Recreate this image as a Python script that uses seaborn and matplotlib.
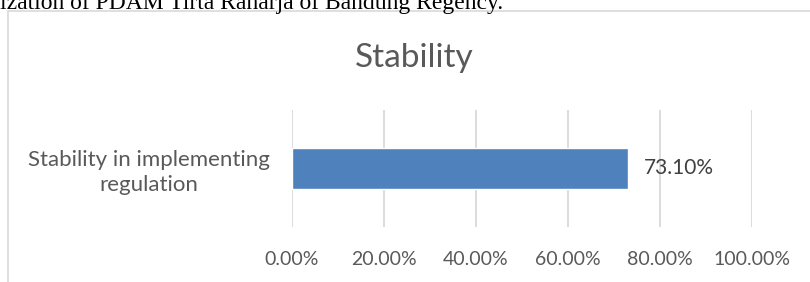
import matplotlib
matplotlib.use("Agg")
import matplotlib.pyplot as plt
import seaborn as sns
import pandas as pd
from matplotlib.patches import Rectangle

categories = ["Stability in implementing\nregulation"]
values = [73.1]
x_ticks = [0, 20, 40, 60, 80, 100]
title = "Stability"
caption = "ization of PDAM Tirta Raharja of Bandung Regency."

sns.set_theme(style="white")
plt.rcParams['font.family'] = ['Lato', 'DejaVu Sans']

W, H = 810, 282
fig = plt.figure(figsize=(W / 100, H / 100), dpi=100)

# chart border (left + top visible)
fig.patches.append(Rectangle((8 / W, -0.1), 1.2, 1 - 11 / H + 0.1, transform=fig.transFigure,
                             fill=False, edgecolor="#D9D9D9", linewidth=1.2))

fig.text(0 / W, 1 - 9.5 / H, caption, family=["Liberation Serif"], fontsize=17,
         color="black", ha="left", va="baseline")

ax = fig.add_axes([292 / W, 1 - 227 / H, (752 - 292) / W, (227 - 110) / H])
df = pd.DataFrame({"cat": categories, "val": values})
sns.barplot(data=df, x="val", y="cat", orient="h", color="#4F81BD", width=0.35,
            saturation=1, ax=ax, zorder=3)

ax.set_xlim(0, 100)
ax.set_ylim(0.5, -0.5)
ax.set_xticks(x_ticks)
ax.set_xticklabels([f"{v:.2f}%" for v in x_ticks], fontsize=14, color="#595959")
ax.tick_params(axis="x", length=0, pad=17)
ax.tick_params(axis="y", length=0, pad=16)
for lab in ax.get_yticklabels():
    lab.set_fontsize(16)
    lab.set_color("#595959")
    lab.set_multialignment("center")
    lab.set_linespacing(1.3)
ax.set_xlabel("")
ax.set_ylabel("")
for s in ax.spines.values():
    s.set_visible(False)
ax.grid(axis="x", color="#D9D9D9", linewidth=1.3, zorder=0)
ax.set_axisbelow(True)

for i, v in enumerate(values):
    ax.text(v + 3.5, i, f"{v:.2f}%", va="center", ha="left", fontsize=15, color="#404040")

fig.text(414 / W, 1 - 67 / H, title, ha="center", va="baseline", fontsize=24, color="#595959")

fig.savefig("out.png", dpi=100)
